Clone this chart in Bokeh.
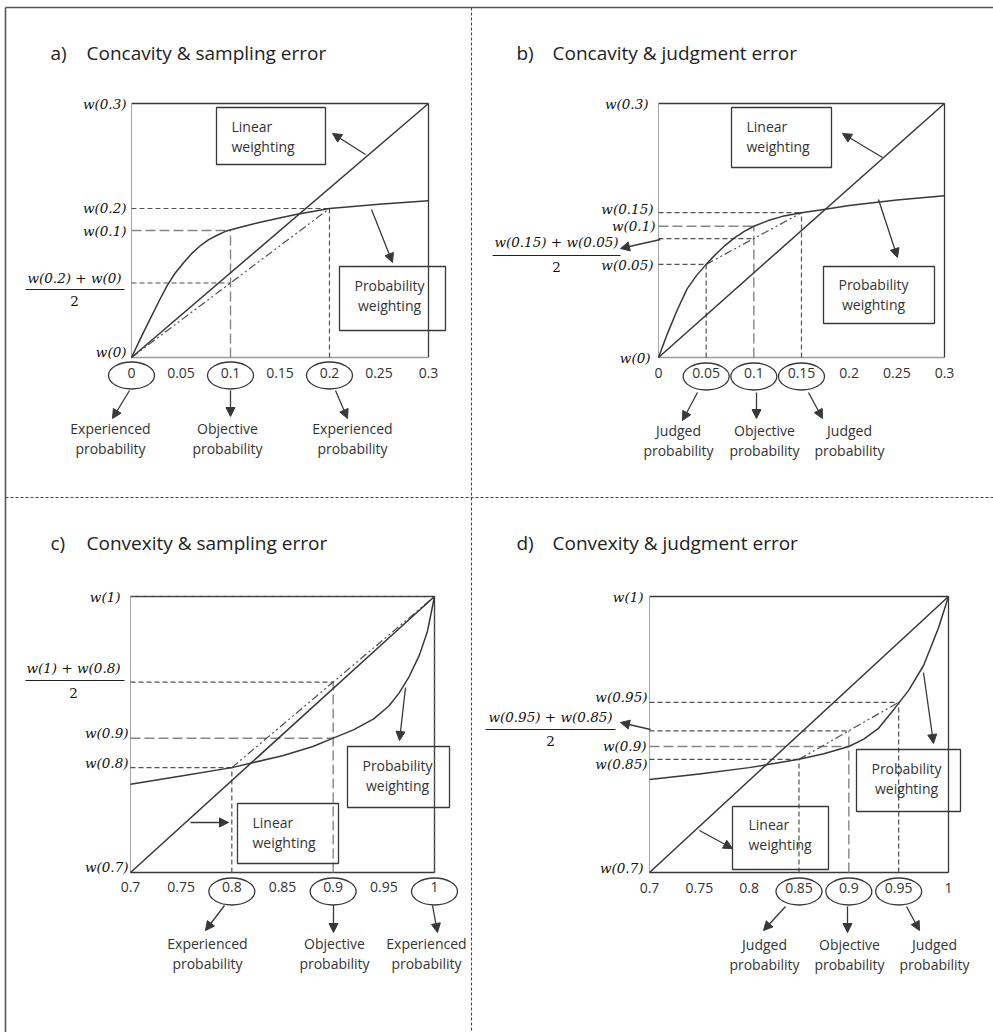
from bokeh.plotting import figure
from bokeh.models import Range1d, Arrow, NormalHead
from bokeh.core.properties import value
from bokeh.embed import file_html
from bokeh.resources import INLINE

W, H = 993, 1032

# ---------------- data ----------------
a_curve_x = [0, 0.011, 0.019, 0.028, 0.036, 0.044, 0.053, 0.061, 0.070, 0.078, 0.087, 0.095, 0.112, 0.129,
             0.146, 0.166, 0.2, 0.25, 0.3]
a_curve_w = [0, 0.027, 0.046, 0.067, 0.085, 0.0995, 0.1125, 0.123, 0.1325, 0.1392, 0.1447, 0.149, 0.1545,
             0.1595, 0.164, 0.169, 0.176, 0.181, 0.185]
a_key_x = [0, 0.1, 0.2]
a_key_w = [0, 0.150, 0.176]
a_ticks = [0, 0.05, 0.1, 0.15, 0.2, 0.25, 0.3]
a_tick_labels = ["0", "0.05", "0.1", "0.15", "0.2", "0.25", "0.3"]
a_ylab_w = [0.3, 0.176, 0.150, 0]
a_ylab_text = ["w(0.3)", "w(0.2)", "w(0.1)", "w(0)"]
a_notes = [["Experienced", "probability"], ["Objective", "probability"], ["Experienced", "probability"]]

b_curve_x = [0, 0.01, 0.02, 0.03, 0.04, 0.05, 0.06, 0.07, 0.08, 0.09, 0.1, 0.115, 0.13, 0.15, 0.175, 0.2,
             0.25, 0.3]
b_curve_w = [0, 0.030, 0.057, 0.081, 0.097, 0.110, 0.122, 0.1325, 0.1415, 0.149, 0.155, 0.1617, 0.1667,
             0.171, 0.175, 0.1795, 0.186, 0.191]
b_key_x = [0.05, 0.1, 0.15]
b_key_w = [0.110, 0.155, 0.171]
b_ticks = [0, 0.05, 0.1, 0.15, 0.2, 0.25, 0.3]
b_tick_labels = ["0", "0.05", "0.1", "0.15", "0.2", "0.25", "0.3"]
b_ylab_w = [0.3, 0.171, 0.155, 0.110, 0]
b_ylab_text = ["w(0.3)", "w(0.15)", "w(0.1)", "w(0.05)", "w(0)"]
b_notes = [["Judged", "probability"], ["Objective", "probability"], ["Judged", "probability"]]

c_curve_x = [0.7, 0.75, 0.8, 0.85, 0.88, 0.9, 0.92, 0.94, 0.955, 0.965, 0.975, 0.985, 0.993, 1.0]
c_curve_w = [0.796, 0.805, 0.814, 0.827, 0.837, 0.846, 0.855, 0.867, 0.881, 0.895, 0.913, 0.936, 0.962, 1.0]
c_key_x = [0.8, 0.9, 1.0]
c_key_w = [0.814, 0.846, 1.0]
c_ticks = [0.7, 0.75, 0.8, 0.85, 0.9, 0.95, 1.0]
c_tick_labels = ["0.7", "0.75", "0.8", "0.85", "0.9", "0.95", "1"]
c_ylab_w = [1.0, 0.846, 0.814, 0.7]
c_ylab_text = ["w(1)", "w(0.9)", "w(0.8)", "w(0.7)"]
c_notes = [["Experienced", "probability"], ["Objective", "probability"], ["Experienced", "probability"]]

d_curve_x = [0.7, 0.75, 0.8, 0.85, 0.875, 0.9, 0.915, 0.93, 0.945, 0.96, 0.975, 0.99, 1.0]
d_curve_w = [0.801, 0.807, 0.814, 0.823, 0.829, 0.837, 0.845, 0.857, 0.877, 0.898, 0.925, 0.966, 1.0]
d_key_x = [0.85, 0.9, 0.95]
d_key_w = [0.823, 0.837, 0.885]
d_ticks = [0.7, 0.75, 0.8, 0.85, 0.9, 0.95, 1.0]
d_tick_labels = ["0.7", "0.75", "0.8", "0.85", "0.9", "0.95", "1"]
d_ylab_w = [1.0, 0.885, 0.837, 0.823, 0.7]
d_ylab_text = ["w(1)", "w(0.95)", "w(0.9)", "w(0.85)", "w(0.7)"]
d_notes = [["Judged", "probability"], ["Objective", "probability"], ["Judged", "probability"]]

titles = {"a": ("a)", "Concavity & sampling error"),
          "b": ("b)", "Concavity & judgment error"),
          "c": ("c)", "Convexity & sampling error"),
          "d": ("d)", "Convexity & judgment error")}
fractions = {"a": "w(0.2) + w(0)", "b": "w(0.15) + w(0.05)",
             "c": "w(1) + w(0.8)", "d": "w(0.95) + w(0.85)"}
box_texts = {"lin": ["Linear", "weighting"], "prob": ["Probability", "weighting"]}

# ---------------- layout (pixels) ----------------
DARK = "#383838"
MID = "#505050"
LIGHT = "#858585"
SANS = value("Open Sans")
SERIF = value("DejaVu Serif")
SHORT = "5 3"
LONG = "10 4"
CHORD = "8 3 2 3 2 3"

panels = {
    "a": dict(box=(131, 428, 103, 357), dom=(0.0, 0.3), cx=a_curve_x, cw=a_curve_w, kx=a_key_x, kw=a_key_w,
              ticks=a_ticks, tl=a_tick_labels, yw=a_ylab_w, yt=a_ylab_text, notes=a_notes,
              ydx=[-5, -5, -5, -5], ydy=[0, 0, 0, -6], bottom_col="#9a9a9a",
              title_xy=(50, 52),
              ell_y=375, tick_dy=15,
              arrows=[(129, 390, 112, 418), (230, 390, 230, 416), (335, 390, 347, 418)],
              note_x=[110, 227, 352], note_y=[428, 448],
              frac=(74, 277, 289, 25, 124, 300), frac_arrow=None,
              lin_box=(216, 325, 107, 164), lin_text=(231, 126, 146, "left"), lin_arrow=(365, 154, 332, 133),
              prob_box=(339, 445, 266, 330), prob_text=(389, 285, 305, "center"), prob_arrow=(371, 209, 392, 262)),
    "b": dict(box=(658, 944, 103, 357), dom=(0.0, 0.3), cx=b_curve_x, cw=b_curve_w, kx=b_key_x, kw=b_key_w,
              ticks=b_ticks, tl=b_tick_labels, yw=b_ylab_w, yt=b_ylab_text, notes=b_notes,
              ydx=[-10, -5, -3, -5, -8], ydy=[0, -4, 0, 1, 0], bottom_col="#9a9a9a",
              title_xy=(516, 52),
              ell_y=376, tick_dy=15,
              arrows=[(697, 392, 682, 420), (756, 392, 756, 418), (808, 392, 822, 418)],
              note_x=[678, 764, 849], note_y=[430, 450],
              frac=(556, 241, 255, 492, 620, 266), frac_arrow=(660, 239, 620, 248),
              lin_box=(731, 831, 107, 167), lin_text=(746, 126, 146, "left"), lin_arrow=(882, 157, 842, 133),
              prob_box=(823, 934, 266, 323), prob_text=(873, 284, 304, "center"), prob_arrow=(878, 199, 897, 257)),
    "c": dict(box=(130, 434, 596, 872), dom=(0.7, 1.0), cx=c_curve_x, cw=c_curve_w, kx=c_key_x, kw=c_key_w,
              ticks=c_ticks, tl=c_tick_labels, yw=c_ylab_w, yt=c_ylab_text, notes=c_notes,
              ydx=[-10, -2, -2, -2], ydy=[0, -5, -5, -6], bottom_col=DARK,
              title_xy=(50, 542),
              ell_y=891, tick_dy=14,
              arrows=[(224, 905, 205, 930), (333, 905, 333, 932), (432, 905, 437, 932)],
              note_x=[207, 334, 426], note_y=[943, 963],
              frac=(73, 667, 680, 25, 124, 692), frac_arrow=None,
              lin_box=(237, 338, 803, 863), lin_text=(252, 822, 842, "left"), lin_arrow=(190, 822, 228, 822),
              prob_box=(347, 449, 746, 807), prob_text=(397, 765, 785, "center"), prob_arrow=(405, 687, 399, 740)),
    "d": dict(box=(649, 948, 596, 872), dom=(0.7, 1.0), cx=d_curve_x, cw=d_curve_w, kx=d_key_x, kw=d_key_w,
              ticks=d_ticks, tl=d_tick_labels, yw=d_ylab_w, yt=d_ylab_text, notes=d_notes,
              ydx=[-6, -2, -3, -2, -6], ydy=[0, -5, 0, 5, -5], bottom_col=DARK,
              title_xy=(516, 542),
              ell_y=891, tick_dy=15,
              arrows=[(785, 906, 763, 930), (847, 906, 847, 932), (906, 906, 919, 930)],
              note_x=[764, 849, 934], note_y=[944, 964],
              frac=(550, 716, 729, 485, 615, 740), frac_arrow=(650, 729, 620, 722),
              lin_box=(732, 828, 806, 869), lin_text=(748, 824, 844, "left"), lin_arrow=(699, 830, 732, 848),
              prob_box=(856, 960, 749, 811), prob_text=(906, 768, 788, "center"), prob_arrow=(923, 672, 933, 743)),
}

p = figure(width=W, height=H, x_range=Range1d(0, W), y_range=Range1d(H, 0),
           output_backend="svg", toolbar_location=None, min_border=0,
           x_axis_location=None, y_axis_location=None, outline_line_color=None)
p.grid.visible = False
p.background_fill_color = "white"
p.border_fill_color = "white"


def arrow(x0, y0, x1, y1, size=9):
    p.add_layout(Arrow(end=NormalHead(size=size, fill_color=DARK, line_color=DARK, line_width=1),
                       x_start=x0, y_start=y0, x_end=x1, y_end=y1,
                       line_color=DARK, line_width=1.3))


# outer border and dividers
p.line([5, W], [7, 7], line_color="#555555", line_width=1.6)
p.line([5, 5], [7, H], line_color="#555555", line_width=1.6)
p.line([471, 471], [7, H], line_color="#444444", line_width=1.1, line_dash="3 2")
p.line([5, W], [497, 497], line_color="#444444", line_width=1.1, line_dash="3 2")

for n, P in panels.items():
    L, R, T, B = P["box"]
    x0, x1 = P["dom"]
    y0, y1 = P["dom"]
    sx = (R - L) / (x1 - x0)
    xs = x0 - L / sx
    p.extra_x_ranges[n] = Range1d(xs, xs + W / sx)
    sy = (B - T) / (y1 - y0)
    ys = y0 - (H - B) / sy
    p.extra_y_ranges[n] = Range1d(ys, ys + H / sy)
    kw = dict(x_range_name=n, y_range_name=n)

    # title
    tx, ty = P["title_xy"]
    tag, ttl = titles[n]
    p.text([tx], [ty], text=[tag], text_font=SANS, text_font_size="19px", text_color="#222222",
           text_align="left", text_baseline="middle")
    p.text([tx + 36], [ty], text=[ttl], text_font=SANS, text_font_size="19px", text_color="#222222",
           text_align="left", text_baseline="middle")

    # frame
    p.line([x0, x1], [y1, y1], line_color=DARK, line_width=1.3, **kw)
    p.line([x1, x1], [y0, y1], line_color=DARK, line_width=1.3, **kw)
    p.line([x0, x0], [y0, y1], line_color="#aaaaaa", line_width=1.1, **kw)
    p.line([x0, x1], [y0, y0], line_color=P["bottom_col"], line_width=1.3, **kw)

    # guides
    lo, obj, hi = P["kx"]
    wlo, wobj, whi = P["kw"]
    mid = (wlo + whi) / 2
    p.line([x0, hi], [whi, whi], line_color=MID, line_width=1.2, line_dash=SHORT, **kw)
    p.line([hi, hi], [y0, whi], line_color=MID, line_width=1.2, line_dash=SHORT, **kw)
    p.line([x0, obj], [wobj, wobj], line_color=LIGHT, line_width=1.4, line_dash=LONG, **kw)
    p.line([obj, obj], [y0, max(wobj, mid)], line_color=LIGHT, line_width=1.4, line_dash=LONG, **kw)
    p.line([x0, obj], [mid, mid], line_color=MID, line_width=1.2, line_dash=SHORT, **kw)
    if lo > x0:
        p.line([x0, lo], [wlo, wlo], line_color=MID, line_width=1.2, line_dash=SHORT, **kw)
        p.line([lo, lo], [y0, wlo], line_color=MID, line_width=1.2, line_dash=SHORT, **kw)
    p.line([lo, hi], [wlo, whi], line_color=MID, line_width=1.2, line_dash=CHORD, **kw)

    # linear weighting and probability weighting curves
    p.line([x0, x1], [y0, y1], line_color=DARK, line_width=1.5, **kw)
    p.line(P["cx"], P["cw"], line_color=DARK, line_width=1.5, line_join="round", **kw)

    # tick labels
    p.text(P["ticks"], [y0] * len(P["ticks"]), text=P["tl"], y_offset=P["tick_dy"],
           text_font=SANS, text_font_size="14px", text_color="#333333",
           text_align="center", text_baseline="middle", **kw)

    # y labels
    p.text([x0] * len(P["yw"]), P["yw"], text=P["yt"], x_offset=P["ydx"], y_offset=P["ydy"],
           text_font=SERIF, text_font_size="13.5px", text_font_style="italic", text_color="#111111",
           text_align="right", text_baseline="middle", **kw)

    # circled values
    ex = [L + (v - x0) * sx for v in P["kx"]]
    p.ellipse(ex, [P["ell_y"]] * 3, width=46, height=27, fill_color=None,
              line_color=DARK, line_width=1.3)
    for (ax0, ay0, ax1, ay1) in P["arrows"]:
        arrow(ax0, ay0, ax1, ay1)
    for i, lines in enumerate(P["notes"]):
        for j, s in enumerate(lines):
            p.text([P["note_x"][i]], [P["note_y"][j]], text=[s], text_font=SANS, text_font_size="14px",
                   text_color="#333333", text_align="center", text_baseline="middle")

    # fraction label
    fx, fy_num, fy_bar, fb0, fb1, fy_den = P["frac"]
    p.text([fx], [fy_num], text=[fractions[n]], text_font=SERIF, text_font_size="13.5px",
           text_font_style="italic", text_color="#111111", text_align="center", text_baseline="middle")
    p.line([fb0, fb1], [fy_bar, fy_bar], line_color="#222222", line_width=1.2)
    p.text([fx], [fy_den], text=["2"], text_font=SERIF, text_font_size="13.5px",
           text_color="#111111", text_align="center", text_baseline="middle")
    if P["frac_arrow"]:
        arrow(*P["frac_arrow"])

    # annotation boxes
    for key in ("lin", "prob"):
        bl, br, bt, bb = P[key + "_box"]
        p.quad(left=[bl], right=[br], top=[bt], bottom=[bb], fill_color=None,
               line_color=DARK, line_width=1.3)
        txx, t1, t2, al = P[key + "_text"]
        for yy, s in zip((t1, t2), box_texts[key]):
            p.text([txx], [yy], text=[s], text_font=SANS, text_font_size="14px", text_color="#333333",
                   text_align=al, text_baseline="middle")
        arrow(*P[key + "_arrow"])

open("out.html", "w").write(file_html(p, INLINE))
